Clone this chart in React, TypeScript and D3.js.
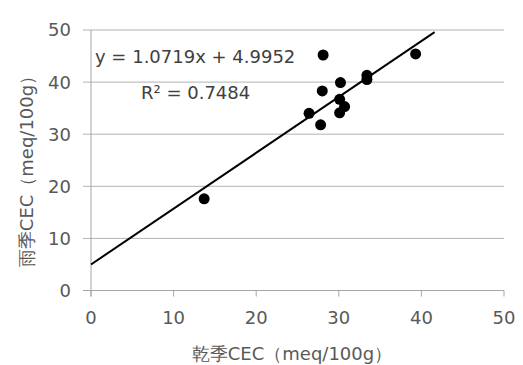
import React from "react";
import * as d3 from "d3";

const dryCEC = [13.7, 28.1, 39.3, 28.0, 30.2, 33.4, 33.4, 26.4, 27.8, 30.1, 30.1, 30.7];
const rainyCEC = [17.6, 45.2, 45.4, 38.3, 39.9, 41.3, 40.5, 34.0, 31.8, 36.7, 34.1, 35.3];
const xTicks = [0, 10, 20, 30, 40, 50];
const yTicks = [0, 10, 20, 30, 40, 50];
const slope = 1.0719;
const intercept = 4.9952;
const trendX = [0, 41.6];
const eqText = "y = 1.0719x + 4.9952";
const r2Text = "R² = 0.7484";
const xTitle = "乾季CEC（meq/100g）";
const yTitle = "雨季CEC（meq/100g）";

export default function App() {
  const W = 523, H = 365;
  const x = d3.scaleLinear().domain([0, 50]).range([91, 504]);
  const y = d3.scaleLinear().domain([0, 50]).range([290.5, 30]);
  const line = d3.line<number>().x((d) => x(d)).y((d) => y(slope * d + intercept));
  const font = "Verdana, 'DejaVu Sans', sans-serif";
  const txt = "#595959";
  const fs = 18;
  return (
    <svg width={W} height={H} style={{ position: "absolute", left: 0, top: 0, background: "#fff" }} fontFamily={font}>
      {yTicks.map((t) => (
        <g key={"y" + t}>
          <line x1={83} x2={504} y1={y(t)} y2={y(t)} stroke={t === 0 ? "#a6a6a6" : "#b3b3b3"} strokeWidth={1} />
          <text x={71} y={y(t)} dy="0.36em" textAnchor="end" fontSize={fs} fill={txt}>{t}</text>
        </g>
      ))}
      <line x1={x(0)} x2={x(0)} y1={y(50)} y2={y(0) + 6} stroke="#a6a6a6" />
      {xTicks.map((t) => (
        <g key={"x" + t}>
          <line x1={x(t)} x2={x(t)} y1={y(0)} y2={y(0) + 6} stroke="#a6a6a6" />
          <text x={x(t)} y={y(0) + 33} textAnchor="middle" fontSize={fs} fill={txt}>{t}</text>
        </g>
      ))}
      <path d={line(trendX) || ""} stroke="#000" strokeWidth={2} fill="none" />
      {dryCEC.map((d, i) => (
        <circle key={i} cx={x(d)} cy={y(rainyCEC[i])} r={5.5} fill="#000" />
      ))}
      <text x={95} y={63} fontSize={fs} fill="#404040">{eqText}</text>
      <text x={141} y={99} fontSize={fs} fill="#404040">{r2Text}</text>
      <text x={292} y={360} textAnchor="middle" fontSize={fs} fill={txt}>{xTitle}</text>
      <text transform={`translate(33,167) rotate(-90)`} textAnchor="middle" fontSize={fs} fill={txt}>{yTitle}</text>
    </svg>
  );
}
